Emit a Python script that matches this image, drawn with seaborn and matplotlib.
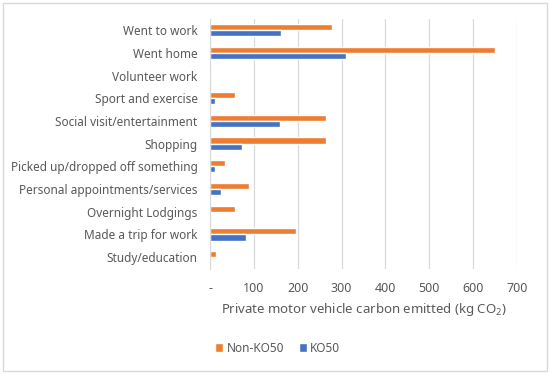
import pandas as pd
import seaborn as sns
import matplotlib.pyplot as plt
from matplotlib.patches import Rectangle
from matplotlib.ticker import FuncFormatter

# data
categories = [
    "Went to work", "Went home", "Volunteer work", "Sport and exercise",
    "Social visit/entertainment", "Shopping", "Picked up/dropped off something",
    "Personal appointments/services", "Overnight Lodgings",
    "Made a trip for work", "Study/education",
]
non_ko50 = [278, 650, 3, 56, 264, 265, 33, 89, 56, 195, 14]
ko50 = [162, 309, 0, 11, 159, 73, 11, 25, 0, 82, 2]
groups = ["Non-KO50", "KO50"]
xticks = [0, 100, 200, 300, 400, 500, 600, 700]

df = pd.DataFrame({
    "activity": categories * 2,
    "carbon": non_ko50 + ko50,
    "group": [groups[0]] * len(categories) + [groups[1]] * len(categories),
})

sns.set_style("white")
plt.rcParams["font.family"] = ["Noto Sans", "DejaVu Sans"]
plt.rcParams["mathtext.default"] = "regular"

grey = "#595959"
fig = plt.figure(figsize=(5.5, 3.75), dpi=100)
ax = fig.add_axes([0.382, 0.284, 0.558, 0.666])

sns.barplot(
    data=df, x="carbon", y="activity", hue="group",
    order=categories, hue_order=groups,
    palette=["#ED7D31", "#4472C4"], width=0.54,
    orient="h", ax=ax, legend=True, saturation=1,
)

ax.set_xlim(0, 700)
ax.set_xticks(xticks)
ax.xaxis.set_major_formatter(FuncFormatter(lambda v, p: "-" if v == 0 else f"{v:.0f}"))
ax.grid(axis="x", color="#D9D9D9", linewidth=0.9)
ax.set_axisbelow(True)
for s in ["top", "right", "bottom"]:
    ax.spines[s].set_visible(False)
ax.spines["left"].set_color("#D9D9D9")
ax.tick_params(axis="both", length=0, colors=grey, labelsize=8.5)
ax.tick_params(axis="x", labelsize=9)
ax.tick_params(axis="y", pad=9)
ax.tick_params(axis="x", pad=10)
ax.set_ylabel("")
ax.set_xlabel("Private motor vehicle carbon emitted (kg CO$_2$)", color=grey, fontsize=9.5, labelpad=4)

handles, labels = ax.get_legend_handles_labels()
ax.get_legend().remove()
fig.legend(handles, labels, loc="center", bbox_to_anchor=(0.505, 0.072), ncol=2,
           frameon=False, fontsize=8.5, labelcolor=grey, handlelength=0.7,
           handleheight=0.7, handletextpad=0.3, columnspacing=1.2)

fig.patches.append(Rectangle((0.006, 0.01), 0.988, 0.982, transform=fig.transFigure,
                             fill=False, edgecolor="#D9D9D9", linewidth=1))

fig.savefig("out.png", dpi=100)
